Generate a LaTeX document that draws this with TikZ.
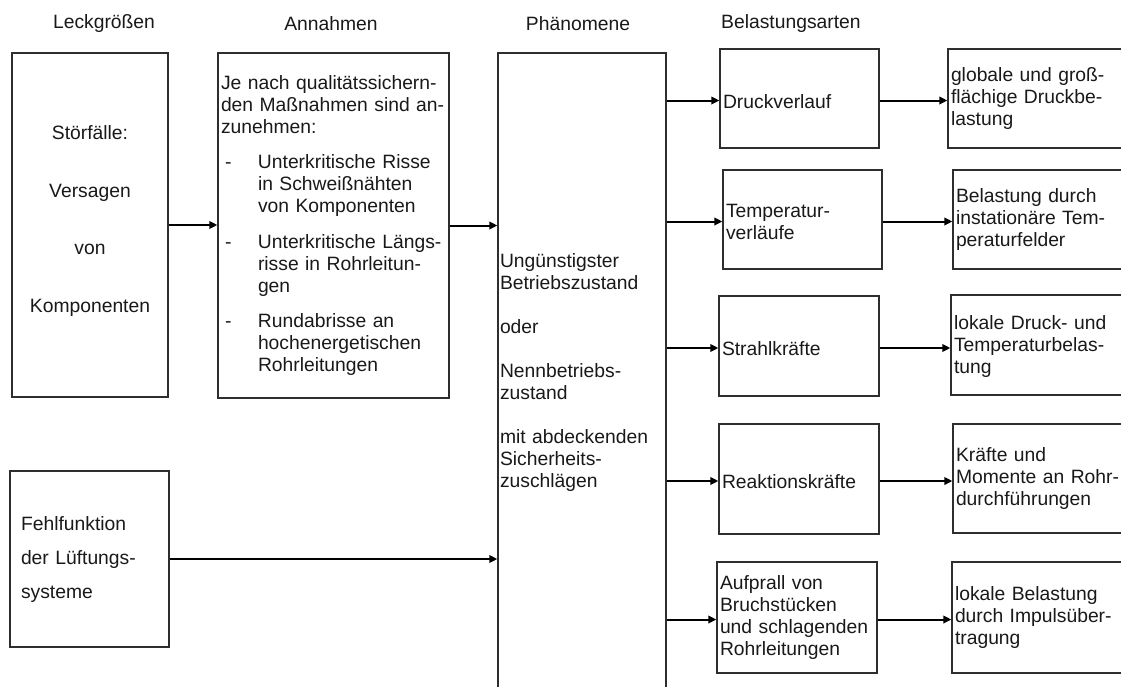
\documentclass[tikz,border=0pt]{standalone}
\usepackage{fontspec}
\setmainfont{Liberation Sans}
\usetikzlibrary{arrows.meta,calc}
\tikzset{
  box/.style={draw=black!82, line width=1.3pt, rectangle, inner ysep=0pt, inner xsep=3pt,
              font=\fontsize{19.3}{22}\selectfont, align=left, text=black!90},
  hdr/.style={font=\fontsize{19.3}{22}\selectfont, inner sep=0pt, text=black!90},
  arr/.style={-{Triangle[length=8pt,width=7.5pt]}, line width=2pt, draw=black},
}
\begin{document}
\begin{tikzpicture}[x=1pt,y=-1pt]
\useasboundingbox (0,0) rectangle (1121,686);
\clip (0,0) rectangle (1121,686);
\fill[white] (0,0) rectangle (1121,686);
% headers
\node[hdr] (h1) at (104,24) {Leckgrößen};
\node[hdr] (h2) at (331,24) {Annahmen};
\node[hdr] (h3) at (578,24) {Phänomene};
\node[hdr, anchor=west] (h4) at (721,24) {Belastungsarten};
% left column
\node[box, minimum width=156pt, minimum height=344pt] (leck) at (90,225) {};
\node[hdr, align=center, font=\fontsize{19.3}{57.7}\selectfont] (leckT) at (90,221)
  {Störfälle:\\Versagen\\von\\Komponenten};
\node[box, minimum width=159pt, minimum height=176pt, inner xsep=11pt, text width=137pt,
      font=\fontsize{19.3}{34}\selectfont] (fehl) at (89.5,559)
  {Fehlfunktion\\der Lüftungs-\\systeme};
% Annahmen
\node[box, minimum width=231pt, minimum height=345pt, text width=225pt] (ann) at (333.5,225.5)
  {Je nach qualitätssichern-\\den Maßnahmen sind an-\\zunehmen:\\[13.5pt]
   \makebox[37pt][l]{\hspace{4pt}-}Unterkritische Risse\\
   \hspace*{37pt}in Schweißnähten\\
   \hspace*{37pt}von Komponenten\\[13.5pt]
   \makebox[37pt][l]{\hspace{4pt}-}Unterkritische Längs-\\
   \hspace*{37pt}risse in Rohrleitun-\\
   \hspace*{37pt}gen\\[13.5pt]
   \makebox[37pt][l]{\hspace{4pt}-}Rundabrisse an\\
   \hspace*{37pt}hochenergetischen\\
   \hspace*{37pt}Rohrleitungen};
% Phaenomene
\node[box, minimum width=168pt, minimum height=639pt, inner xsep=2pt, text width=164pt] (phen) at (582,372.5)
  {Ungünstigster\\Betriebszustand\\[22pt]oder\\[22pt]Nennbetriebs-\\zustand\\[22pt]mit abdeckenden\\Sicherheits-\\zuschlägen};
% Belastungsarten
\node[box, minimum width=159pt, minimum height=99pt, text width=153pt] (d1) at (799.5,98.5) {\rule{0pt}{20pt}Druckverlauf};
\node[box, minimum width=159pt, minimum height=99pt, text width=153pt] (d2) at (802.5,219.5) {\rule{0pt}{18pt}Temperatur-\\verläufe};
\node[box, minimum width=160pt, minimum height=100pt, text width=154pt] (d3) at (799,346) {\rule{0pt}{20pt}Strahlkräfte};
\node[box, minimum width=160pt, minimum height=110pt, text width=154pt] (d4) at (799,479) {\rule{0pt}{20pt}Reaktionskräfte};
\node[box, minimum width=160pt, minimum height=111pt, text width=154pt] (d5) at (797,617.5) {Aufprall von\\Bruchstücken\\und schlagenden\\Rohrleitungen};
% Right column
\node[box, minimum width=192pt, minimum height=99pt, text width=186pt] (e1) at (1044,98.5) {globale und groß-\\flächige Druckbe-\\lastung};
\node[box, minimum width=187pt, minimum height=99pt, text width=181pt] (e2) at (1046.5,219.5) {Belastung durch\\instationäre Tem-\\peraturfelder};
\node[box, minimum width=189pt, minimum height=100pt, text width=183pt] (e3) at (1045.5,345) {\rule{0pt}{17pt}lokale Druck- und\\Temperaturbelas-\\tung};
\node[box, minimum width=187pt, minimum height=109pt, text width=181pt] (e4) at (1046.5,478.5) {Kräfte und\\Momente an Rohr-\\durchführungen};
\node[box, minimum width=188pt, minimum height=111pt, text width=182pt] (e5) at (1046,617.5) {lokale Belastung\\durch Impulsüber-\\tragung};
% arrows
\draw[arr] (leck.east) -- (leck.east -| ann.west);
\draw[arr] (ann.east) -- (ann.east -| phen.west);
\draw[arr] (fehl.east) -- (fehl.east -| phen.west);
\foreach \i in {1,...,5}{
  \draw[arr] ([yshift=-2pt]d\i.west -| phen.east) -- ([yshift=-2pt]d\i.west);
  \draw[arr] ([yshift=-2pt]d\i.east) -- ([yshift=-2pt]d\i.east -| e\i.west);
}
\end{tikzpicture}
\end{document}
